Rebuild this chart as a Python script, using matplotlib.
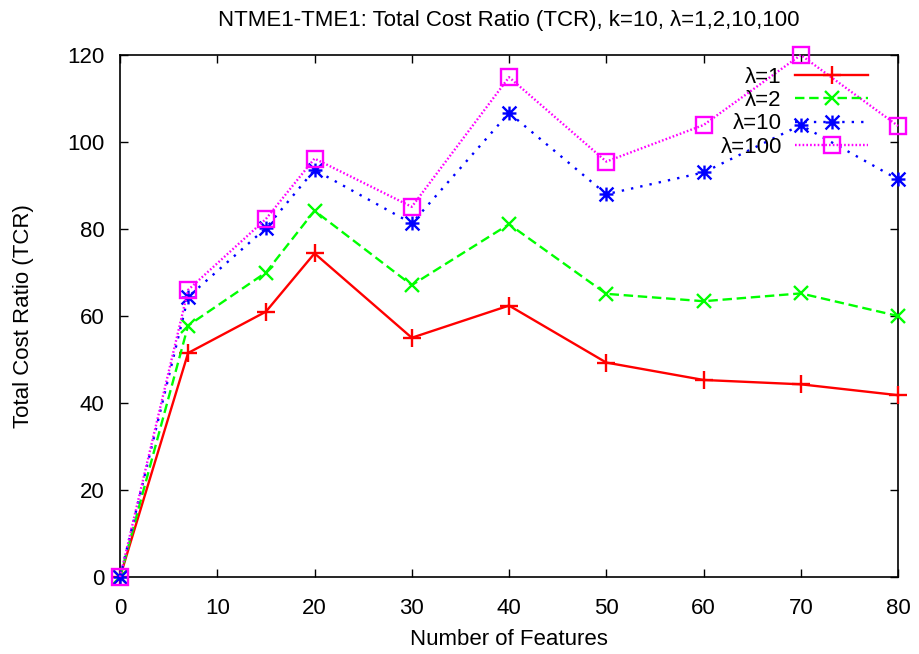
import matplotlib.pyplot as plt
from matplotlib.path import Path

plt.rcParams["font.family"] = ["Liberation Sans", "DejaVu Sans"]

features = [0, 7, 15, 20, 30, 40, 50, 60, 70, 80]
tcr_l1 = [0, 51.5, 61.0, 74.4, 55.0, 62.4, 49.3, 45.3, 44.3, 41.8]
tcr_l2 = [0, 57.8, 70.0, 84.2, 67.1, 81.1, 65.1, 63.4, 65.2, 60.0]
tcr_l10 = [0, 64.4, 80.2, 93.6, 81.3, 106.7, 88.0, 93.0, 103.9, 91.4]
tcr_l100 = [0, 66.0, 82.3, 96.2, 85.1, 114.9, 95.5, 103.9, 120.0, 103.7]
labels = ["λ=1", "λ=2", "λ=10", "λ=100"]

# gnuplot style asterisk: a plus and a cross on top of each other
star = Path([(-1, 0), (1, 0), (0, -1), (0, 1), (-1, -1), (1, 1), (-1, 1), (1, -1)],
            [Path.MOVETO, Path.LINETO] * 4)

fig = plt.figure(figsize=(9.19, 6.54), dpi=100)
ax = fig.add_axes([0.1306, 0.1177, 0.8466, 0.7982])

common = dict(lw=1.7, clip_on=False, markerfacecolor="none", zorder=3)
ax.plot(features, tcr_l1, color="#ff0000", ls="-", marker="+", ms=13, mew=1.7, label=labels[0], **common)
ax.plot(features, tcr_l2, color="#00ff00", ls=(0, (4, 2)), marker="x", ms=10, mew=1.7, label=labels[1], **common)
ax.plot(features, tcr_l10, color="#0000ff", ls=(0, (1, 3)), marker=star, ms=10, mew=1.7, label=labels[2], **common)
ax.plot(features, tcr_l100, color="#ff00ff", ls=(0, (0.7, 0.9)), marker="s", ms=11, mew=1.7, label=labels[3], **common)

ax.set_xlim(0, 80)
ax.set_ylim(0, 120)
ax.set_xticks(range(0, 81, 10))
ax.set_yticks(range(0, 121, 20))
ax.tick_params(direction="in", length=6, width=1, top=True, right=True, labelsize=16)
ax.tick_params(axis="x", pad=15)
ax.tick_params(axis="y", pad=11)
for s in ax.spines.values():
    s.set_linewidth(1.2)

ax.set_title("NTME1-TME1: Total Cost Ratio (TCR), k=10, λ=1,2,10,100", fontsize=16, pad=21)
ax.set_xlabel("Number of Features", fontsize=16, labelpad=7)
ax.set_ylabel("Total Cost Ratio (TCR)", fontsize=16, labelpad=24)

ax.legend(loc="upper right", bbox_to_anchor=(0.962, 0.977), frameon=False, markerfirst=False,
          fontsize=16, handlelength=3.3, handletextpad=0.6, labelspacing=0.1,
          borderpad=0, borderaxespad=0)

fig.savefig("out.png", dpi=100)
